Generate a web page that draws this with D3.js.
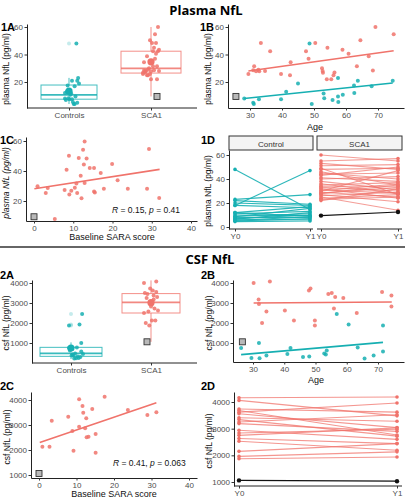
<!DOCTYPE html>
<html><head><meta charset="utf-8">
<script src="https://cdn.jsdelivr.net/npm/d3@7"></script>
<style>body{margin:0;background:#fff}svg{display:block}</style>
</head><body>
<script>
// ---------------- DATA ----------------
const groups = ["Controls", "SCA1"];
const facets = ["Control", "SCA1"];
const visits = ["Y0", "Y1"];

// Plasma NfL vs age
const plasmaCtrlAge = [28.2,31,31.2,32.8,39.7,41.3,45,48.6,49.3,53,53.2,55.8,57.5,57.5,57.6,59,62.5,62.6,63.7,68,74.6];
const plasmaCtrlNfl = [8,5,4,7.5,7.5,13,19,48,4,11.6,8.2,7,23,9.5,5.4,10.8,17.5,12,21,17,21];
const plasmaSCA1Age = [29.5,31.3,31,31.9,32.6,32.9,34.7,33.4,36.3,39.7,42.5,42.7,47.5,48.3,50.4,52.5,52.7,52.8,54,54.2,55.4,56.1,56.4,58.9,60.8,63.4,64.5,67.1,68.4,69.2,74.9];
const plasmaSCA1Nfl = [25.8,31.5,28.5,27.8,29,27.8,28,48.4,42.4,25.8,25,34.4,42.4,37,48.4,30,28,26.7,22,45,22,25,27,43.4,40.5,31.5,50.4,38.8,28.4,60,54.7];
const plasmaFitCtrl = [[28.2, 8], [74.6, 19.3]];
const plasmaFitSCA1 = [[29.5, 28], [74.9, 42.7]];
// box stats [min, q1, median, q3, max]
const plasmaBoxCtrl = [4, 7.5, 10.6, 17.8, 23];
const plasmaBoxSCA1 = [9.5, 26.5, 29.9, 42.4, 60];
const plasmaOutCtrl = [48];
// presymptomatic carrier (square / black line)
const presymAge = [25.6, 26.6];       // plasma, csf
const presymNfl = [9.5, 1060];        // plasma, csf
const presymSara = [0, 0];
const presymPlasmaVisits = [9.5, 12.5];
const presymCsfVisits = [1060, 1030];

// Plasma NfL vs SARA
const sara1C = [0.9,3,3.5,5.3,7.8,8.3,8.9,9,9.5,10.4,10.8,11,11.4,11.9,12.1,12.5,12.7,12.9,12.9,13.4,14.2,15.3,15.3,15.5,17,17.8,19.9,21.3,23.9,28.8,29.3,31.9];
const nfl1C = [29.8,25.3,28.7,8,27.3,40.9,50.2,24.4,26.9,28.9,31.6,25.3,48.7,36.9,21.8,54.2,44.4,32,59.6,48.4,42,42,26.4,25.6,38.7,28.2,44.7,33.8,28.2,28.2,54.7,22];
const fit1C = [[0.1, 28.2], [32, 41.1]];
const stat1C = "0.15", p1C = "0.41";

// Plasma longitudinal
const ctrlY0 = [48,18,23,22,20,18,12,11,10,9,8,7,6,5,4.5,12,8.5,6.5,5.5];
const ctrlY1 = [14.5,47,27,19,18,16,17,13,9.5,11,8,10,6,7,5,9,15.5,12,8.5];
const scaY0 = [60,55,53,51,49,48,46,44,43,41,40,38,35,34,33,31,30,29,28,27,26,25,24,23,22,32,36,45,28,30];
const scaY1 = [55,57,48,52,27,49,35,45,50,38,42,31,37,34,30,28,36,25,33,21,29,14,27,25,32,24,28,40,35,47];

// CSF NfL vs age
const csfCtrlAge = [26.2,31.9,29.5,32.1,34.3,42,41,46,48,52.8,53.3,53.6,56.8,60.6,63.5,65.7,68.6,71.6,71.6];
const csfCtrlNfl = [750,1000,250,240,370,750,450,300,330,470,420,630,2450,1920,780,220,370,1880,580];
const csfSCA1Age = [30.2,35.4,31.8,31.9,34.3,32.9,40.2,43.1,47.9,48.4,54.1,55.2,56.3,55.9,49.8,49.8,58.9,63.2,71.3,74.3,74.3];
const csfSCA1Nfl = [4000,4080,3170,2950,2570,2000,2620,2130,3630,3720,3450,3500,3300,2720,2130,1880,3250,2500,3550,3370,2830];
const csfFitCtrl = [[26.2, 420], [71.6, 1030]];
const csfFitSCA1 = [[30.2, 3000], [74.4, 3050]];
const csfBoxCtrl = [200, 333, 480, 783, 1030];
const csfBoxSCA1 = [1060, 2500, 3030, 3470, 4130];
const csfOutCtrl = [1880, 1920, 2450];

// CSF vs SARA
const sara2C = [0.9,2.8,3.4,7.8,8.9,9.2,10.7,10.7,11.6,11.8,12.3,12.6,12.7,13.2,14.2,15.1,15.1,17.5,23.7,28.9,31.3];
const csf2C = [2130,2130,3170,3330,2760,1970,4030,2930,3760,3490,2870,3270,2510,2530,3640,2640,1890,4130,3600,3400,3510];
const fit2C = [[0.2, 2300], [31.3, 3890]];
const stat2C = "0.41", p2C = "0.063";

// CSF longitudinal
const csfY0 = [4160,4060,3740,3680,3620,3560,3410,3340,3250,3190,2940,2840,2750,2630,2530,2150,1960,1870];
const csfY1 = [4190,3480,3620,2760,3960,3040,3280,2720,3520,2900,2600,2980,3030,2440,2190,2440,2130,1940];

// tick labels
const plasmaTicks = [20, 40, 60];
const plasmaTicksD = [0, 20, 40, 60];
const ageTicks = [30, 40, 50, 60, 70];
const saraTicks = [0, 10, 20, 30, 40];
const csfTicks = [1000, 2000, 3000, 4000];

// ---------------- STYLE ----------------
const RED = "#F0736B", TEAL = "#16AFB2";
const FONT = "'Liberation Sans', Arial, sans-serif";
const W = 405, H = 500;
const fmtInt = d3.format("d");

const svg = d3.select("body").append("svg").attr("width", W).attr("height", H)
  .style("background", "#fff").style("font-family", FONT);

function lin(v1, p1, v2, p2, lo, hi) {
  const s = d3.scaleLinear().domain([v1, v2]).range([p1, p2]);
  return s.copy().domain([s.invert(lo), s.invert(hi)]).range([lo, hi]);
}
function styleAxis(g) {
  g.select(".domain").attr("stroke", "#222").attr("stroke-width", 1);
  g.selectAll(".tick line").attr("stroke", "#333");
  g.selectAll(".tick text").attr("fill", "#4d4d4d").style("font-size", "8px").style("font-family", FONT);
}
function yAxis(x0, y, ticks) {
  svg.append("g").attr("transform", `translate(${x0},0)`)
    .call(d3.axisLeft(y).tickValues(ticks).tickFormat(fmtInt).tickSize(2.5).tickPadding(1.5).tickSizeOuter(0)).call(styleAxis);
}
function xAxis(y0, x, ticks) {
  const a = d3.axisBottom(x).tickSize(2.5).tickPadding(1.5).tickSizeOuter(0).tickValues(ticks).tickFormat(fmtInt);
  svg.append("g").attr("transform", `translate(0,${y0})`).call(a).call(styleAxis);
}
function catAxis(y0, x) {
  svg.append("g").attr("transform", `translate(0,${y0})`)
    .call(d3.axisBottom(x).tickSize(2.5).tickPadding(1.5).tickSizeOuter(0)).call(styleAxis)
    .select(".domain").remove();
}
function xLine(y0, x1, x2) {
  svg.append("line").attr("x1", x1).attr("x2", x2).attr("y1", y0).attr("y2", y0)
    .attr("stroke", "#222").attr("stroke-width", 1);
}
function yTitle(x, yc, t, italic) {
  svg.append("text").attr("transform", `translate(${x},${yc}) rotate(-90)`)
    .attr("text-anchor", "middle").style("font-size", "8.5px").attr("fill", "#111")
    .style("font-style", italic ? "italic" : "normal").text(t);
}
function xTitle(xc, y, t) {
  svg.append("text").attr("x", xc).attr("y", y).attr("text-anchor", "middle")
    .style("font-size", "9px").attr("fill", "#111").text(t);
}
function panelLabel(x, y, t) {
  svg.append("text").attr("x", x).attr("y", y).style("font-size", "11px")
    .style("font-weight", "bold").attr("fill", "#000").text(t);
}
function dots(xs, ys, x, y, color, r = 2) {
  svg.append("g").selectAll("circle").data(xs).join("circle")
    .attr("cx", (d) => x(d)).attr("cy", (d, i) => y(ys[i])).attr("r", r)
    .attr("fill", color).attr("fill-opacity", 0.85);
}
function fitLine(f, x, y, color) {
  svg.append("line").attr("x1", x(f[0][0])).attr("y1", y(f[0][1]))
    .attr("x2", x(f[1][0])).attr("y2", y(f[1][1]))
    .attr("stroke", color).attr("stroke-width", 1.6);
}
function square(cx, cy) {
  svg.append("rect").attr("x", cx - 3).attr("y", cy - 3).attr("width", 6).attr("height", 6)
    .attr("fill", "#b9b9b9").attr("stroke", "#333").attr("stroke-width", 0.9);
}
const jit = (i) => (((i * 7919) % 17) / 16 - 0.5);

function boxPanel(cx, y, stats, vals, outs, color, bw, jw, side) {
  const g = svg.append("g");
  const [mn, q1, md, q3, mx] = stats;
  g.append("line").attr("x1", cx).attr("x2", cx).attr("y1", y(q3)).attr("y2", y(mx))
    .attr("stroke", color).attr("stroke-opacity", 0.8);
  g.append("line").attr("x1", cx).attr("x2", cx).attr("y1", y(q1)).attr("y2", y(mn))
    .attr("stroke", color).attr("stroke-opacity", 0.8);
  g.append("rect").attr("x", cx - bw / 2).attr("width", bw).attr("y", y(q3))
    .attr("height", y(q1) - y(q3)).attr("fill", "none").attr("stroke", color)
    .attr("stroke-opacity", 0.8).attr("stroke-width", 1);
  g.append("line").attr("x1", cx - bw / 2).attr("x2", cx + bw / 2).attr("y1", y(md)).attr("y2", y(md))
    .attr("stroke", color).attr("stroke-width", 1.8).attr("stroke-opacity", 0.85);
  outs.forEach((o) => g.append("circle").attr("cx", cx).attr("cy", y(o)).attr("r", 2)
    .attr("fill", color).attr("fill-opacity", 0.25));
  g.selectAll(".pt").data(vals).join("circle").attr("class", "pt")
    .attr("cx", (d, i) => cx + side + jit(i) * jw).attr("cy", (d) => y(d)).attr("r", 2)
    .attr("fill", color).attr("fill-opacity", 0.85);
  g.append("circle").attr("cx", cx).attr("cy", y(d3.mean(vals))).attr("r", 3.6).attr("fill", color);
}

// ---------------- HEADERS ----------------
svg.append("text").attr("x", 206).attr("y", 15).attr("text-anchor", "middle")
  .style("font-family", "'Open Sans', sans-serif").style("font-weight", "bold").style("font-size", "13px").text("Plasma NfL");
svg.append("text").attr("x", 210).attr("y", 264).attr("text-anchor", "middle")
  .style("font-family", "'Open Sans', sans-serif").style("font-weight", "bold").style("font-size", "13px").text("CSF NfL");
svg.append("line").attr("x1", 0).attr("x2", 405).attr("y1", 247).attr("y2", 247)
  .attr("stroke", "#333").attr("stroke-width", 1.5);

// ---------------- 1A ----------------
{
  const y = lin(60, 27, 20, 82, 108, 24);
  const x = d3.scalePoint().domain(groups).range([69, 151]);
  yAxis(27, y, plasmaTicks);
  xLine(108, 27, 197);
  catAxis(108, x);
  boxPanel(x("Controls"), y, plasmaBoxCtrl, plasmaCtrlNfl, plasmaOutCtrl, TEAL, 56, 14, 3);
  boxPanel(x("SCA1"), y, plasmaBoxSCA1, plasmaSCA1Nfl, [], RED, 60, 16, 0);
  square(x("SCA1") + 6, y(presymNfl[0]));
  yTitle(9, 69, "plasma NfL (pg/ml)");
  panelLabel(1, 31, "1A");
}
// ---------------- 1B ----------------
{
  const y = lin(60, 27, 20, 82, 108, 24);
  const x = lin(30, 250, 70, 378, 228, 404);
  yAxis(228, y, plasmaTicks);
  xAxis(108, x, ageTicks);
  dots(plasmaSCA1Age, plasmaSCA1Nfl, x, y, RED);
  dots(plasmaCtrlAge, plasmaCtrlNfl, x, y, TEAL);
  fitLine(plasmaFitSCA1, x, y, RED);
  fitLine(plasmaFitCtrl, x, y, TEAL);
  square(x(presymAge[0]), y(presymNfl[0]));
  yTitle(211, 69, "plasma NfL (pg/ml)");
  xTitle(315, 130, "Age");
  panelLabel(200, 31, "1B");
}
// ---------------- 1C ----------------
{
  const y = lin(60, 141, 20, 201, 221, 137);
  const x = lin(0, 34, 40, 191, 26, 197);
  yAxis(26, y, plasmaTicks);
  xAxis(221, x, saraTicks);
  dots(sara1C, nfl1C, x, y, RED);
  fitLine(fit1C, x, y, RED);
  square(x(presymSara[0]), y(presymNfl[0]));
  svg.append("text").attr("x", 112).attr("y", 213).style("font-size", "8.5px").attr("fill", "#111")
    .html(`<tspan font-style="italic">R</tspan> = ${stat1C}, <tspan font-style="italic">p</tspan> = ${p1C}`);
  yTitle(9, 183, "plasma NfL (pg/ml)", true);
  xTitle(112, 240, "Baseline SARA score");
  panelLabel(0, 144, "1C");
}
// ---------------- 1D ----------------
{
  const y = lin(60, 155, 0, 227, 229, 150);
  const panels = [
    { f: facets[0], x: d3.scalePoint().domain(visits).range([235, 310]), x1: 229, x2: 313, y0: ctrlY0, y1: ctrlY1, c: TEAL, op: 0.9 },
    { f: facets[1], x: d3.scalePoint().domain(visits).range([321, 398]), x1: 317, x2: 402, y0: scaY0, y1: scaY1, c: RED, op: 0.7 },
  ];
  yAxis(229, y, plasmaTicksD);
  panels.forEach((p) => {
    svg.append("rect").attr("x", p.x1).attr("y", 136).attr("width", p.x2 - p.x1).attr("height", 14)
      .attr("fill", "#f4f4f4").attr("stroke", "#333").attr("stroke-width", 1);
    svg.append("text").attr("x", (p.x1 + p.x2) / 2).attr("y", 146.5).attr("text-anchor", "middle")
      .style("font-size", "8px").attr("fill", "#333").text(p.f);
    xLine(229, p.x1, p.x2);
    catAxis(229, p.x);
    const g = svg.append("g");
    p.y0.forEach((v, i) => {
      g.append("line").attr("x1", p.x("Y0")).attr("x2", p.x("Y1")).attr("y1", y(v)).attr("y2", y(p.y1[i]))
        .attr("stroke", p.c).attr("stroke-width", 1.1).attr("stroke-opacity", p.op);
      g.append("circle").attr("cx", p.x("Y0")).attr("cy", y(v)).attr("r", 1.8).attr("fill", p.c);
      g.append("circle").attr("cx", p.x("Y1")).attr("cy", y(p.y1[i])).attr("r", 1.8).attr("fill", p.c);
    });
  });
  const px = panels[1].x;
  svg.append("line").attr("x1", px("Y0")).attr("x2", px("Y1"))
    .attr("y1", y(presymPlasmaVisits[0])).attr("y2", y(presymPlasmaVisits[1])).attr("stroke", "#111").attr("stroke-width", 1.2);
  presymPlasmaVisits.forEach((v, i) => svg.append("circle").attr("cx", px(visits[i])).attr("cy", y(v)).attr("r", 2.2).attr("fill", "#111"));
  yTitle(211, 191, "plasma NfL (pg/ml)");
  panelLabel(201, 144, "1D");
}
// ---------------- 2A ----------------
{
  const y = lin(4000, 283, 1000, 343, 363, 280);
  const x = d3.scalePoint().domain(groups).range([71, 151]);
  yAxis(32, y, csfTicks);
  xLine(363, 32, 197);
  catAxis(363, x);
  boxPanel(x("Controls"), y, csfBoxCtrl, csfCtrlNfl, csfOutCtrl, TEAL, 62, 14, 5);
  boxPanel(x("SCA1"), y, csfBoxSCA1, csfSCA1Nfl, [], RED, 58, 14, 0);
  square(x("SCA1") - 4, y(presymNfl[1]));
  yTitle(9, 323, "csf NfL (pg/ml)");
  panelLabel(0, 279, "2A");
}
// ---------------- 2B ----------------
{
  const y = lin(4000, 283, 1000, 343, 362, 280);
  const x = lin(30, 253, 70, 378, 233, 404);
  yAxis(233, y, csfTicks);
  xAxis(362, x, ageTicks);
  dots(csfSCA1Age, csfSCA1Nfl, x, y, RED);
  dots(csfCtrlAge, csfCtrlNfl, x, y, TEAL);
  fitLine(csfFitSCA1, x, y, RED);
  fitLine(csfFitCtrl, x, y, TEAL);
  square(x(presymAge[1]), y(presymNfl[1]));
  yTitle(212, 323, "csf NfL (pg/ml)");
  xTitle(316, 383, "Age");
  panelLabel(201, 279, "2B");
}
// ---------------- 2C ----------------
{
  const y = lin(4000, 400, 1000, 475, 478, 392);
  const x = lin(0, 39, 40, 189, 31, 197);
  yAxis(31, y, csfTicks);
  xAxis(478, x, saraTicks);
  dots(sara2C, csf2C, x, y, RED);
  fitLine(fit2C, x, y, RED);
  square(x(presymSara[1]), y(presymNfl[1]));
  svg.append("text").attr("x", 113).attr("y", 466).style("font-size", "8.5px").attr("fill", "#111")
    .html(`<tspan font-style="italic">R</tspan> = ${stat2C}, <tspan font-style="italic">p</tspan> = ${p2C}`);
  yTitle(10, 437, "csf NfL (pg/ml)");
  xTitle(114, 497, "Baseline SARA score");
  panelLabel(0, 390, "2C");
}
// ---------------- 2D ----------------
{
  const y = lin(4000, 402, 1000, 482, 486, 392);
  const x = d3.scalePoint().domain(visits).range([239, 397]);
  yAxis(234, y, csfTicks);
  xLine(486, 234, 402);
  catAxis(486, x);
  const g = svg.append("g");
  csfY0.forEach((v, i) => {
    g.append("line").attr("x1", x("Y0")).attr("x2", x("Y1")).attr("y1", y(v)).attr("y2", y(csfY1[i]))
      .attr("stroke", RED).attr("stroke-width", 1.1).attr("stroke-opacity", 0.75);
    g.append("circle").attr("cx", x("Y0")).attr("cy", y(v)).attr("r", 1.8).attr("fill", RED);
    g.append("circle").attr("cx", x("Y1")).attr("cy", y(csfY1[i])).attr("r", 1.8).attr("fill", RED);
  });
  svg.append("line").attr("x1", x("Y0")).attr("x2", x("Y1"))
    .attr("y1", y(presymCsfVisits[0])).attr("y2", y(presymCsfVisits[1])).attr("stroke", "#111").attr("stroke-width", 1.2);
  presymCsfVisits.forEach((v, i) => svg.append("circle").attr("cx", x(visits[i])).attr("cy", y(v)).attr("r", 2.2).attr("fill", "#111"));
  yTitle(212, 441, "csf NfL (pg/ml)");
  panelLabel(201, 390, "2D");
}
</script>
</body></html>
